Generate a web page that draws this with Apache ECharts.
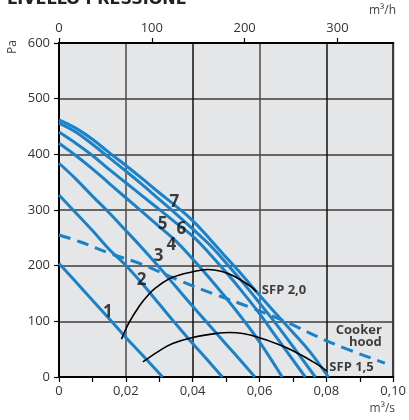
<!DOCTYPE html>
<html>
<head>
<meta charset="utf-8">
<script src="https://cdn.jsdelivr.net/npm/echarts@6/dist/echarts.min.js"></script>
<style>
html,body{margin:0;padding:0;background:#fff;}
#chart{width:409px;height:420px;}
</style>
</head>
<body>
<div id="chart"></div>
<script>
// ---- data (flow m3/s, pressure Pa) ----
const curve1 = [[0,204],[0.005,171],[0.01,138],[0.0157,100],[0.02,71],[0.025,39],[0.031,0]];
const curve2 = [[0,327],[0.005,295],[0.01,263],[0.0152,228],[0.0196,203],[0.025,167],[0.03,131],[0.035,95],[0.04,60],[0.0445,30],[0.0489,0]];
const curve3 = [[0,384],[0.005,356],[0.01,325],[0.015,295],[0.02,263],[0.025,231],[0.03,197],[0.035,162],[0.04,127],[0.045,93],[0.05,59],[0.055,25],[0.0586,0]];
const curve4 = [[0,420],[0.005,398],[0.01,374],[0.015,348],[0.02,322],[0.025,296],[0.03,270],[0.035,244],[0.04,212],[0.045,178],[0.05,142],[0.055,104],[0.06,63],[0.0668,0]];
const curve5 = [[0,440],[0.005,420],[0.01,398],[0.015,373],[0.02,349],[0.025,325],[0.03,301],[0.035,277],[0.04,253],[0.045,222],[0.05,188],[0.055,152],[0.06,114],[0.065,72],[0.0737,0]];
const curve6 = [[0,456],[0.005,440],[0.01,418],[0.015,394],[0.02,370],[0.025,345],[0.03,319],[0.035,293],[0.04,266],[0.045,238],[0.05,205],[0.055,170],[0.06,133],[0.065,95],[0.07,55],[0.0767,0]];
const curve7 = [[0,462],[0.005,447],[0.01,427],[0.015,403],[0.02,380],[0.025,356],[0.03,331],[0.035,307],[0.04,281],[0.045,249],[0.05,215],[0.055,182],[0.0591,153],[0.065,113],[0.07,80],[0.075,46],[0.0806,0]];
const cookerHood = [[0,255],[0.00625,243],[0.0152,222],[0.0241,204],[0.037,171],[0.0459,150],[0.0568,126],[0.0668,102],[0.0817,61],[0.0975,25]];
const sfp20 = [[0.0187,68],[0.021,98],[0.0241,128],[0.0265,146],[0.0291,161],[0.034,179],[0.04,189],[0.0445,193],[0.0485,190],[0.0524,181],[0.0573,163],[0.0591,153]];
const sfp15 = [[0.0251,27],[0.03,47],[0.034,60],[0.04,71],[0.0479,79],[0.051,80],[0.055,78],[0.0598,71],[0.065,60],[0.0697,48],[0.0767,25],[0.0801,11]];
const curveNames = ['1','2','3','4','5','6','7'];
const curveLabelPos = [[0.0146,117],[0.0247,174],[0.0298,217],[0.0336,237],[0.0310,275],[0.0366,266],[0.0345,314]];
const textLabels = [
  {name:'SFP 2,0', value:[0.0607,156]},
  {name:'SFP 1,5', value:[0.0809,18]},
  {name:'Cooker\nhood', value:[0.0966,74]}
];
const flowTicksM3s = {min:0, max:0.1, interval:0.02};
const flowTicksM3h = {min:0, max:360, interval:100};
const pressureTicks = {min:0, max:600, interval:100};

const BLUE = '#1a82c8';
const FONT = 'Open Sans';
const fanCurves = [curve1,curve2,curve3,curve4,curve5,curve6,curve7];

const chart = echarts.init(document.getElementById('chart'));
const series = [];
fanCurves.forEach((c,i)=>{
  series.push({type:'line', name:'curve'+curveNames[i], data:c, smooth:0.4, symbol:'none',
    lineStyle:{color:BLUE, width:3}, z:3});
});
series.push({type:'line', name:'Cooker hood', data:cookerHood, smooth:0.4, symbol:'none',
  lineStyle:{color:BLUE, width:3, type:[12,7]}, z:3});
series.push({type:'line', name:'SFP 2,0', data:sfp20, smooth:0.4, symbol:'none',
  lineStyle:{color:'#000', width:1.6}, z:4});
series.push({type:'line', name:'SFP 1,5', data:sfp15, smooth:0.4, symbol:'none',
  lineStyle:{color:'#000', width:1.6}, z:4});
series.push({type:'scatter', symbolSize:0, z:5,
  data: curveLabelPos.map((p,i)=>({name:curveNames[i], value:p})),
  label:{show:true, position:'inside', formatter:'{b}', color:'#111',
    fontFamily:FONT, fontWeight:'bold', fontSize:17}});
series.push({type:'scatter', symbolSize:0, z:5,
  data: textLabels.slice(0,2),
  label:{show:true, position:'right', distance:0, formatter:'{b}', color:'#111',
    fontFamily:FONT, fontWeight:'bold', fontSize:13}});
series.push({type:'scatter', symbolSize:0, z:5,
  data: textLabels.slice(2),
  label:{show:true, position:'left', distance:0, align:'right', formatter:'{b}', color:'#111',
    fontFamily:FONT, fontWeight:'bold', fontSize:13, lineHeight:12}});

const axisLabelStyle = {color:'#333', fontFamily:FONT, fontSize:13};

chart.setOption({
  animation:false,
  backgroundColor:'#fff',
  grid:{left:59, right:14, top:43, bottom:43, show:true, backgroundColor:'#e5e6e8',
    borderColor:'#000', borderWidth:2},
  xAxis:[
    {type:'value', position:'bottom', min:flowTicksM3s.min, max:flowTicksM3s.max, interval:flowTicksM3s.interval,
      axisLine:{show:true, onZero:false, lineStyle:{color:'#000', width:2}},
      axisTick:{show:true, inside:false, length:5, lineStyle:{color:'#000', width:1.2}},
      minorTick:{show:true, splitNumber:2, length:5, lineStyle:{color:'#000', width:1.2}},
      splitLine:{show:true, lineStyle:{color:['#111','#4a4a4a'], width:1.5}},
      axisLabel:Object.assign({margin:8, formatter:v=> v===0?'0':v.toFixed(2).replace('.',',')}, axisLabelStyle)},
    {type:'value', position:'top', min:flowTicksM3h.min, max:flowTicksM3h.max, interval:flowTicksM3h.interval,
      axisLine:{show:true, onZero:false, lineStyle:{color:'#000', width:2}},
      axisTick:{show:true, inside:false, length:5, lineStyle:{color:'#000', width:1.2}},
      splitLine:{show:false},
      axisLabel:Object.assign({margin:8, showMaxLabel:false}, axisLabelStyle)}
  ],
  yAxis:[
    {type:'value', min:pressureTicks.min, max:pressureTicks.max, interval:pressureTicks.interval,
      axisLine:{show:true, onZero:false, lineStyle:{color:'#000', width:2}},
      axisTick:{show:true, inside:false, length:5, lineStyle:{color:'#000', width:1.2}},
      splitLine:{show:true, lineStyle:{color:'#3c3c3c', width:1.5}},
      axisLabel:Object.assign({margin:9}, axisLabelStyle)}
  ],
  graphic:[
    {type:'text', left:7, top:-8, style:{text:'LIVELLO PRESSIONE', fill:'#222',
      font:'bold 16px "DejaVu Sans"'}},
    {type:'text', x:13, y:47, rotation:Math.PI/2, style:{text:'Pa', fill:'#444',
      font:'12px "Open Sans"', align:'center', verticalAlign:'middle'}},
    {type:'text', right:13, top:5, style:{text:'m³/h', fill:'#444', font:'12px "Open Sans"'}},
    {type:'text', right:14, top:403, style:{text:'m³/s', fill:'#444', font:'12px "Open Sans"'}}
  ],
  series:series
});
</script>
</body>
</html>
